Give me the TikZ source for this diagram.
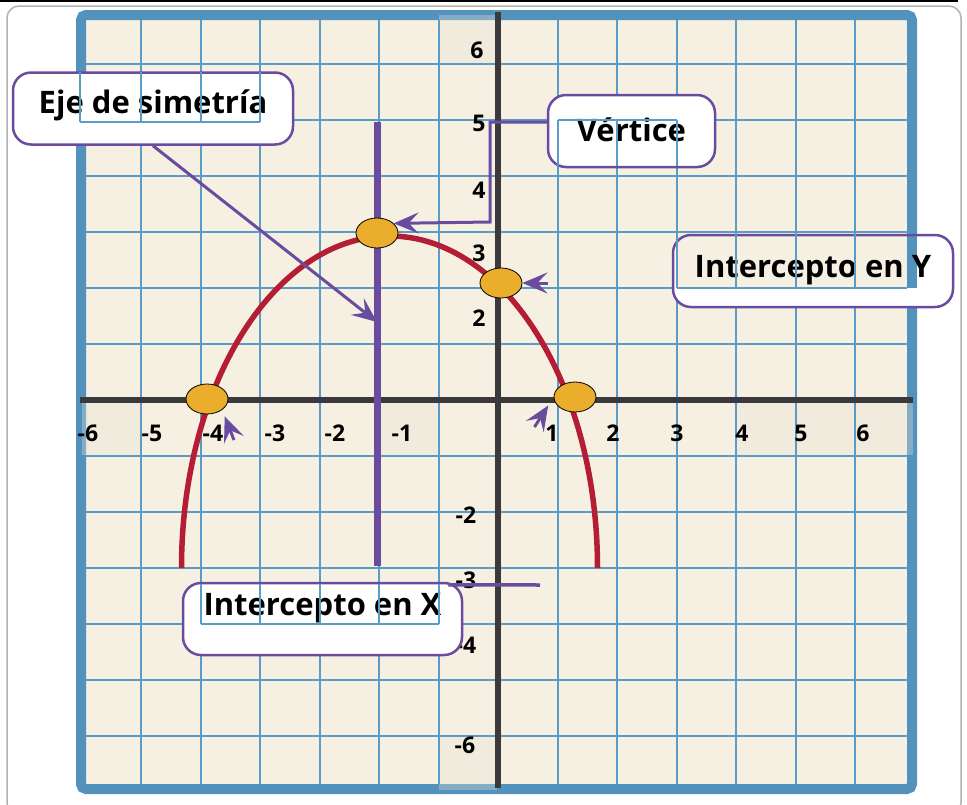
\documentclass[tikz,border=0pt]{standalone}
\usepackage{fontspec}
\setmainfont{Open Sans}
\usetikzlibrary{positioning, shapes.geometric, arrows.meta, calc}
\definecolor{papel}{HTML}{F6F0E3}
\definecolor{cuadricula}{HTML}{5B9BC5}
\definecolor{azulmarco}{HTML}{5292BD}
\definecolor{tinta}{HTML}{3A3A3C}
\definecolor{morado}{HTML}{6A4C9F}
\definecolor{rojo}{HTML}{B41D33}
\definecolor{oro}{HTML}{EAAE2C}
\definecolor{franja}{HTML}{E6E2D4}

\begin{document}
\begin{tikzpicture}[x=1pt, y=-1pt, font=\fontsize{23}{27}\selectfont\bfseries,
  rejilla/.style={cuadricula, line width=2pt},
  cuadro/.style={draw=morado, line width=2.5pt, fill=white, rounded corners=18pt,
                 minimum width=280pt, minimum height=72pt, inner sep=0pt,
                 text height=21pt, font=\fontsize{31}{36}\selectfont\bfseries},
  punto/.style={ellipse, draw=black, line width=0.8pt, fill=oro,
                minimum width=42pt, minimum height=30pt, inner sep=0pt},
  num/.style={inner sep=0pt},
  conector/.style={morado, line width=3pt, -{Stealth[length=25pt, width=21pt, inset=10pt]}}
]
  \useasboundingbox (0,0) rectangle (967,804);
  \draw[black, line width=2.5pt] (0,1.2) -- (958,1.2);
  \draw[gray!60, line width=1.5pt, rounded corners=12pt] (7,6) rectangle (961,815);

  % papel cuadriculado
  \fill[papel] (81,15) rectangle (912,789);
  \draw[azulmarco, line width=10pt, rounded corners=5pt] (81,15) rectangle (912,789);
  \foreach \a/\b/\c/\d in {82/403/141/455, 379/403/438.5/455, 736/403/913/455,
                           438.5/15/497/64, 438.5/736/497/790}
    \fill[franja, opacity=0.35] (\a,\b) rectangle (\c,\d);
  \begin{scope}
    \clip (86,20) rectangle (907,784);
    \foreach \k in {-7,...,7} {
      \draw[rejilla] ({498+59.5*\k},20) -- ({498+59.5*\k},784);
      \draw[rejilla] (86,{400+56*\k}) -- (907,{400+56*\k});
    }
  \end{scope}

  % ejes
  \draw[tinta, line width=6pt] (80,400) -- (913,400);
  \draw[tinta, line width=6pt] (498,12) -- (498,788);
  \foreach \x/\t [count=\i] in {88/-6, 152/-5, 213/-4, 275/-3, 335/-2, 402/-1,
                                552/1, 613/2, 677/3, 742/4, 801/5, 863/6}
    \node[num] (nx\i) at (\x,433) {\t};
  \foreach \x/\y/\t [count=\i] in {477/50/6, 479/123/5, 479/190/4, 479/253/3, 479/318/2,
                                   466/515/-2, 466/580/-3, 466/645/-4, 465/745/-6}
    \node[num] (ny\i) at (\x,\y) {\t};

  % eje de simetria y curva
  \coordinate (simA) at (377,122);
  \coordinate (simB) at (377,566);
  \draw[morado, line width=7pt] (simA) -- (simB);
  \draw[rojo, line width=5.5pt] (597.5,568) arc[start angle=0, end angle=-180, x radius=208, y radius=332];

  \node[punto] (vertice) at (377,233) {};
  \node[punto] (ordenada) at (501,283) {};
  \node[punto] (raizI) at (207,399) {};
  \node[punto] (raizD) at (575,397) {};

  % cuadros
  \node[cuadro, text depth=12pt] (cajaEje) at (153,108.5) {Eje de simetría};
  \node[cuadro, minimum width=167pt, text depth=0pt] (cajaV) at (631.5,131) {Vértice};
  \node[cuadro, text depth=9pt, path picture={
      \fill[papel, sharp corners] ($(path picture bounding box.north west)+(3.5,-3)$) rectangle ++(240.5,56);
      \fill[azulmarco, sharp corners] ($(path picture bounding box.north west)+(234,-3)$) rectangle ++(10,56);
    }] (cajaY) at (813,271) {Intercepto en Y};
  \node[cuadro, minimum width=279pt, text depth=29pt] (cajaX) at (322.5,619) {Intercepto en X};

  % flechas
  \coordinate (pEje) at (377,322);
  \draw[conector] (cajaEje.south) -- (pEje);
  \coordinate (codo) at (490,222);
  \draw[conector] ($(cajaV.west)+(0,-9)$) -| (codo) -- (vertice.30);
  \coordinate (pY) at (548,283);
  \draw[conector] (pY) -- (ordenada.east);
  \coordinate (pXi) at (234,440);
  \draw[conector, shorten >=7pt] (pXi) -- (raizI.south east);
  \coordinate (pXd) at (534.5,427);
  \draw[conector, shorten >=10pt] (pXd) -- (raizD.west);
  \coordinate (finX) at (540,585);
  \draw[morado, line width=3.5pt] ($(cajaX.north east)+(-15,3)$) -- (finX);

  % rejilla encima de los cuadros
  \foreach \x in {80,141,200.5,260} \draw[rejilla] (\x,72) -- (\x,122);
  \draw[rejilla] (80,122) -- (260,122);
  \foreach \x in {557.5,617,676.5} \draw[rejilla] (\x,120) -- (\x,166);
  \draw[rejilla] (557.5,120) -- (676.5,120);
  \foreach \x in {676.5,736,795.5,855} \draw[rejilla] (\x,232) -- (\x,288);
  \foreach \y in {232,288} \draw[rejilla] (676.5,\y) -- (907,\y);
  \foreach \x in {200.5,260,319.5,379,438.5} \draw[rejilla] (\x,584) -- (\x,624);
  \draw[rejilla] (200.5,624) -- (438.5,624);
\end{tikzpicture}
\end{document}
